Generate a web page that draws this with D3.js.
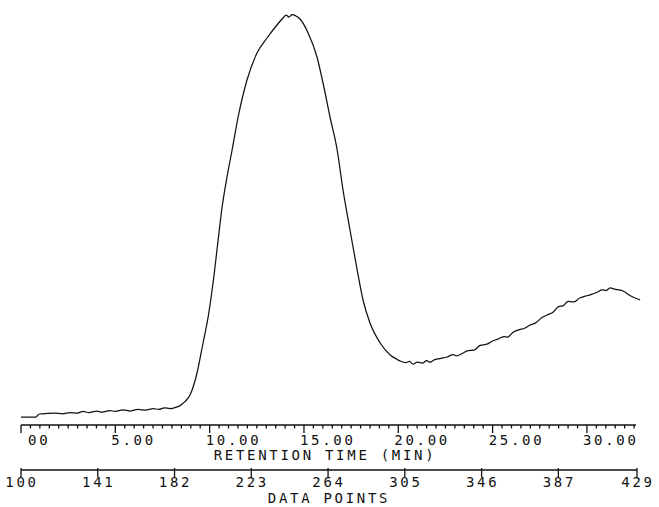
<!DOCTYPE html>
<html>
<head>
<meta charset="utf-8">
<script src="https://cdn.jsdelivr.net/npm/d3@7"></script>
<style>
  html, body { margin: 0; padding: 0; background: #fff; }
  svg { display: block; }
  text { font-family: "DejaVu Sans Mono", monospace; font-size: 14px; fill: #111; letter-spacing: 2.7px; }
</style>
</head>
<body>
<svg id="chart" width="659" height="507"></svg>
<script>
// Retention time (min) and detector response (relative units)
const retentionTime = [0, 0.8, 0.9, 1.0, 1.4, 1.8, 2.2, 2.6, 3.0, 3.3, 3.6, 4.0, 4.3, 4.7, 5.0, 5.4, 5.8, 6.2, 6.6, 7.0, 7.3, 7.6, 7.9, 8.2, 8.45, 8.7, 8.96, 9.33, 9.65, 9.92, 10.18, 10.45, 10.66, 10.92, 11.19, 11.51, 11.98, 12.51, 13.04, 13.57, 13.9, 14.05, 14.2, 14.37, 14.55, 14.79, 15.22, 15.69, 16.01, 16.38, 16.76, 17.07, 17.44, 17.82, 18.13, 18.5, 19.04, 19.57, 19.9, 20.1, 20.4, 20.6, 20.78, 21.0, 21.3, 21.5, 21.69, 21.9, 22.2, 22.59, 22.9, 23.1, 23.44, 23.7, 24.0, 24.34, 24.7, 25.0, 25.24, 25.6, 25.8, 26.09, 26.4, 26.7, 26.99, 27.3, 27.6, 27.89, 28.2, 28.5, 28.74, 29.0, 29.3, 29.64, 29.9, 30.2, 30.54, 30.8, 31.0, 31.23, 31.5, 31.7, 31.92, 32.3, 32.82];
const response = [0, 0, 0.5, 0.75, 0.9, 1.0, 0.8, 1.1, 1.0, 1.4, 1.1, 1.5, 1.2, 1.6, 1.4, 1.8, 1.5, 1.9, 1.7, 2.1, 1.9, 2.3, 2.1, 2.4, 2.9, 3.9, 5.5, 11, 18.5, 25, 33.5, 44.25, 52.5, 60, 66.75, 75, 84.25, 91, 94.75, 98, 99.8, 100.5, 100, 100.6, 100.3, 99.5, 96, 90, 83.5, 75, 66.75, 56.75, 46.75, 36.75, 29.25, 23.5, 18.5, 15.5, 14.5, 14.0, 13.6, 13.9, 13.2, 13.7, 13.5, 14.1, 13.7, 14.3, 14.6, 15.0, 15.6, 15.3, 16.0, 16.6, 16.7, 17.9, 18.2, 19.0, 19.4, 20.1, 20.0, 21.2, 21.8, 22.2, 23.0, 23.6, 24.8, 25.5, 26.2, 27.6, 27.8, 28.9, 28.8, 29.8, 30.2, 30.6, 31.2, 31.8, 31.6, 32.3, 31.9, 31.8, 31.5, 30.3, 29.25];

const timeTicks = [0, 5, 10, 15, 20, 25, 30];
const timeTickLabels = ["00", "5.00", "10.00", "15.00", "20.00", "25.00", "30.00"];
const dataPointTicks = [100, 141, 182, 223, 264, 305, 346, 387, 429];
const timeTitle = "RETENTION TIME (MIN)";
const pointsTitle = "DATA POINTS";

const svg = d3.select("#chart");

const x = d3.scaleLinear().domain([0, 32.6]).range([21, 636]);
const xPts = d3.scaleLinear().domain([100, 429]).range([21, 637]);
const y = d3.scaleLinear().domain([0, 100]).range([417, 17]);

const data = retentionTime.map((t, i) => ({ t, v: response[i] }));

// trace
svg.append("path")
  .datum(data)
  .attr("fill", "none")
  .attr("stroke", "#111")
  .attr("stroke-width", 1.25)
  .attr("stroke-linejoin", "round")
  .attr("d", d3.line().curve(d3.curveMonotoneX).x(d => x(d.t)).y(d => y(d.v)));

// retention time axis
const axisY = 425;
const gT = svg.append("g").attr("transform", `translate(0,${axisY})`);
gT.append("line").attr("x1", x(0)).attr("x2", x.range()[1])
  .attr("stroke", "#111").attr("stroke-width", 1.5);
const minorTicks = d3.range(0, 32.6 + 1e-9, 0.5);
gT.selectAll("line.minor").data(minorTicks).enter().append("line")
  .attr("class", "minor")
  .attr("x1", d => x(d)).attr("x2", d => x(d))
  .attr("y1", 0).attr("y2", d => (Math.abs(d % 5) < 1e-9 ? 8 : 3.5))
  .attr("stroke", "#111").attr("stroke-width", 1.3);
gT.selectAll("text.tl").data(timeTicks).enter().append("text")
  .attr("class", "tl")
  .attr("x", (d, i) => i === 0 ? 28 : x(d) - 4)
  .attr("y", 20)
  .attr("text-anchor", "start")
  .text((d, i) => timeTickLabels[i]);
svg.append("text").attr("x", 325).attr("y", 460).attr("text-anchor", "middle").text(timeTitle);

// data points axis
const axis2Y = 470;
const gP = svg.append("g").attr("transform", `translate(0,${axis2Y})`);
gP.append("line").attr("x1", xPts(100)).attr("x2", xPts(429))
  .attr("stroke", "#111").attr("stroke-width", 1.5);
gP.selectAll("line.pt").data(dataPointTicks).enter().append("line")
  .attr("class", "pt")
  .attr("x1", d => xPts(d)).attr("x2", d => xPts(d))
  .attr("y1", -2).attr("y2", 7)
  .attr("stroke", "#111").attr("stroke-width", 1.3);
gP.selectAll("text.pl").data(dataPointTicks).enter().append("text")
  .attr("class", "pl")
  .attr("x", d => xPts(d) + 1)
  .attr("y", 17)
  .attr("text-anchor", "middle")
  .text(d => d);
svg.append("text").attr("x", 329).attr("y", 503).attr("text-anchor", "middle").text(pointsTitle);
</script>
</body>
</html>
